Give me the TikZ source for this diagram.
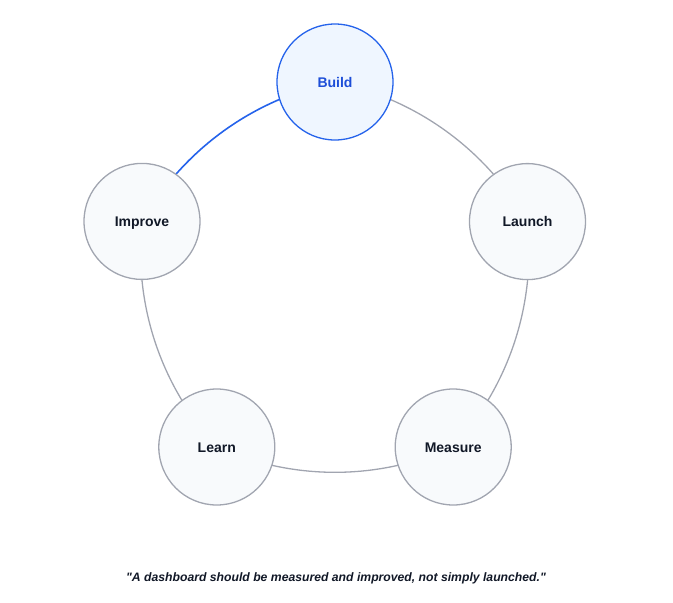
\documentclass[tikz,border=0pt]{standalone}
\usepackage{fontspec}
\setmainfont{Liberation Sans}[Ligatures=TeXOff]
\usetikzlibrary{backgrounds}
\definecolor{ringgray}{HTML}{A1A5B0}
\definecolor{nodefill}{HTML}{F8FAFC}
\definecolor{bluestroke}{HTML}{2563EB}
\definecolor{bluefill}{HTML}{EFF6FF}
\definecolor{bluetext}{HTML}{1D4ED8}
\definecolor{darktext}{HTML}{111827}
\tikzset{
  stage/.style={circle, minimum size=116pt, inner sep=0pt, text height=10pt, text depth=0pt, draw=ringgray, line width=1.3pt, fill=nodefill, text=darktext, font=\fontsize{14}{16}\selectfont\bfseries},
  activestage/.style={stage, draw=bluestroke, fill=bluefill, text=bluetext},
  ringarc/.style={draw=ringgray, line width=1.3pt, bend left=24, looseness=0.9},
  activearc/.style={ringarc, draw=bluestroke, line width=1.6pt},
  quote/.style={font=\fontsize{12.2}{14}\selectfont\bfseries\itshape, text=darktext}
}
\begin{document}
\begin{tikzpicture}[x=1pt,y=-1pt]
\useasboundingbox (0,0) rectangle (673,603);
\node[activestage] (build) at (335,82) {Build};
\node[stage] (launch) at (527.5,221.6) {Launch};
\node[stage] (measure) at (453.2,447) {Measure};
\node[stage] (learn) at (216.8,447) {Learn};
\node[stage] (improve) at (142,221.4) {Improve};
\begin{pgfonlayer}{background}
\draw[ringarc] (build.center) to (launch.center);
\draw[ringarc] (launch.center) to (measure.center);
\draw[ringarc] (measure.center) to (learn.center);
\draw[ringarc] (learn.center) to (improve.center);
\draw[activearc] (improve.center) to (build.center);
\end{pgfonlayer}
\node[quote] (q) at (336,578) {"A dashboard should be measured and improved, not simply launched."};
\end{tikzpicture}
\end{document}
